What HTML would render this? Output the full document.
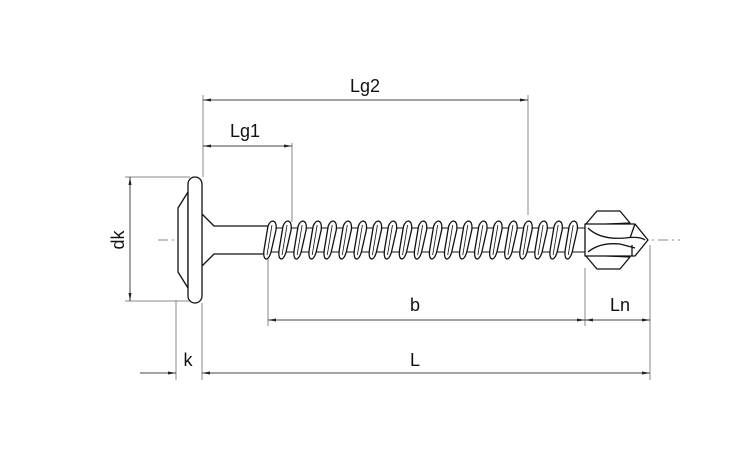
<!DOCTYPE html>
<html><head><style>body{margin:0;background:#fff}svg{display:block}text{font-family:"Liberation Sans",sans-serif;font-size:18px;fill:#111}</style></head><body>
<svg id="s" width="750" height="450" viewBox="0 0 750 450">
<defs><marker id="a" markerWidth="8" markerHeight="6" refX="8" refY="3" orient="auto-start-reverse" markerUnits="userSpaceOnUse"><path d="M0,1.5 L8,3 L0,4.5z" fill="#222"/></marker></defs>
<g stroke="#888" stroke-width="1" fill="none">
<line x1="158" y1="240" x2="680" y2="240" stroke-dasharray="10,4,2,4"/>
<line x1="203" y1="95" x2="203" y2="177"/>
<line x1="292" y1="143" x2="292" y2="222"/>
<line x1="528" y1="95" x2="528" y2="215"/>
<line x1="125" y1="177" x2="190" y2="177"/>
<line x1="125" y1="301" x2="190" y2="301"/>
<line x1="176" y1="300" x2="176" y2="380"/>
<line x1="202" y1="303" x2="202" y2="380"/>
<line x1="268" y1="258" x2="268" y2="326"/>
<line x1="585" y1="268" x2="585" y2="326"/>
<line x1="650" y1="245" x2="650" y2="380"/>
</g>
<g stroke="#444" stroke-width="1" fill="none">
<line x1="203" y1="100" x2="528" y2="100" marker-start="url(#a)" marker-end="url(#a)"/>
<line x1="203" y1="146" x2="292" y2="146" marker-start="url(#a)" marker-end="url(#a)"/>
<line x1="130" y1="177" x2="130" y2="301" marker-start="url(#a)" marker-end="url(#a)"/>
<line x1="268" y1="320" x2="585" y2="320" marker-start="url(#a)" marker-end="url(#a)"/>
<line x1="585" y1="320" x2="650" y2="320" marker-start="url(#a)" marker-end="url(#a)"/>
<line x1="202" y1="373" x2="650" y2="373" marker-start="url(#a)" marker-end="url(#a)"/>
<line x1="140" y1="373" x2="176" y2="373" marker-end="url(#a)"/>
</g>
<text x="365" y="92" text-anchor="middle">Lg2</text>
<text x="245" y="137" text-anchor="middle">Lg1</text>
<text x="415" y="311" text-anchor="middle">b</text>
<text x="620" y="311" text-anchor="middle">Ln</text>
<text x="415" y="366" text-anchor="middle">L</text>
<text x="188" y="366" text-anchor="middle">k</text>
<text transform="translate(124,240) rotate(-90)" text-anchor="middle">dk</text>
<g id="scr" stroke="#111" stroke-width="1.3" fill="#fff" stroke-linejoin="round">
<path d="M178,208 L188,192 L188,288 L178,272 Z"/>
<path d="M201,213 L214,226 L268,226 L268,254 L214,254 L201,267 Z"/>
<rect x="188" y="177" width="14" height="126" rx="7"/>
<rect x="268" y="228" width="318" height="24" stroke-width="1"/>
<g id="th"></g>
<path d="M585,225 L597,211 L620,211 L630,223 Z"/>
<path d="M585,255 L597,269 L620,269 L630,257 Z"/>
<path d="M585,224 L635,224 L648,240 L635,256 L585,256 Z"/>
<path d="M588,228 Q600,240 625,238 Q640,236 645,240 M588,252 Q600,242 620,244 L635,248 M635,224 L630,238 M632,256 L632,245" fill="none"/>
</g>
</svg>
<script>
var s='';
for(var i=0;i<21;i++){var x=272+i*15.06;
s+='<path d="M'+(x-4)+',226 Q'+(x-2)+',221 '+(x+1)+',221 Q'+(x+5)+',222 '+(x+4)+',230 L'+(x-1)+',252 Q'+(x-3)+',259 '+(x-6)+',259 Q'+(x-9)+',258 '+(x-8)+',250 Z"/>';
s+='<path d="M'+(x)+',225 L'+(x-5)+',255" fill="none" stroke-width="0.8"/>';}
document.getElementById('th').innerHTML=s;
</script>
</body></html>
